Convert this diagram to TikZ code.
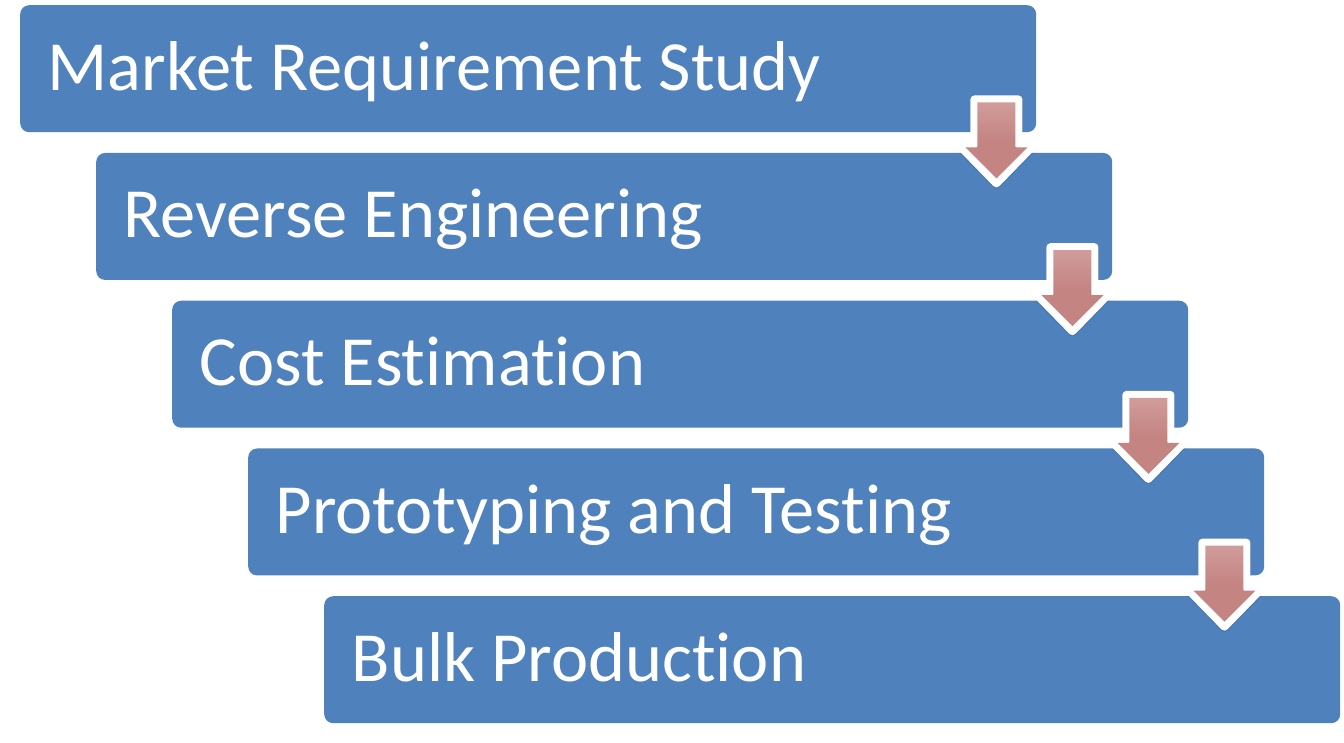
\documentclass[tikz,border=0pt]{standalone}
\usepackage{fontspec}
\setmainfont{Carlito}[Ligatures=NoCommon]
\usetikzlibrary{shadows.blur}
\definecolor{boxblue}{HTML}{4F81BD}
\definecolor{arrowred}{RGB}{196,132,130}
\tikzset{
  stage/.style={rectangle, rounded corners=9pt, fill=boxblue, text=white,
    minimum width=1016pt, minimum height=127pt, inner xsep=27.5pt, inner ysep=0pt,
    text height=45.4pt, text depth=2.4pt,
    font=\fontsize{70.5pt}{80pt}\selectfont, anchor=north west},
  downarrow/.style={draw=white, line width=8pt, line join=round, fill=arrowred,
    blur shadow={shadow xshift=0pt, shadow yshift=-1pt, shadow blur radius=4pt, shadow opacity=35}},
}
\newcommand{\stagetext}[1]{\makebox[961pt][l]{#1}}
\newcommand{\stagearrow}[1]{%
  \path[downarrow, shift={(#1)}] (-22pt,33pt) -- (22pt,33pt) -- (22pt,-12pt) -- (38pt,-12pt)
    -- (0pt,-51pt) -- (-38pt,-12pt) -- (-22pt,-12pt) -- cycle;
  \path[shift={(#1)}, top color=arrowred!80!white, bottom color=arrowred, middle color=arrowred]
    (-19pt,30pt) -- (19pt,30pt) -- (19pt,-15pt) -- (31pt,-15pt)
    -- (0pt,-46pt) -- (-31pt,-15pt) -- (-19pt,-15pt) -- cycle;
}
\begin{document}
\begin{tikzpicture}[x=1pt,y=1pt]
\useasboundingbox (0,0) rectangle (1344,-742);
\node[stage] (b1) at (20,-5) {\stagetext{Market Requirement Study}};
\node[stage] (b2) at (96,-152.75) {\stagetext{Reverse Engineering}};
\node[stage] (b3) at (172,-300.5) {\stagetext{Cost Estimation}};
\node[stage] (b4) at (248,-448.25) {\stagetext{Prototyping and Testing}};
\node[stage] (b5) at (324,-596) {\stagetext{Bulk Production}};
\coordinate (a1) at ([xshift=-40pt]b1.south east);
\coordinate (a2) at ([xshift=-40pt]b2.south east);
\coordinate (a3) at ([xshift=-40pt]b3.south east);
\coordinate (a4) at ([xshift=-40pt]b4.south east);
\stagearrow{a1}
\stagearrow{a2}
\stagearrow{a3}
\stagearrow{a4}
\end{tikzpicture}
\end{document}
